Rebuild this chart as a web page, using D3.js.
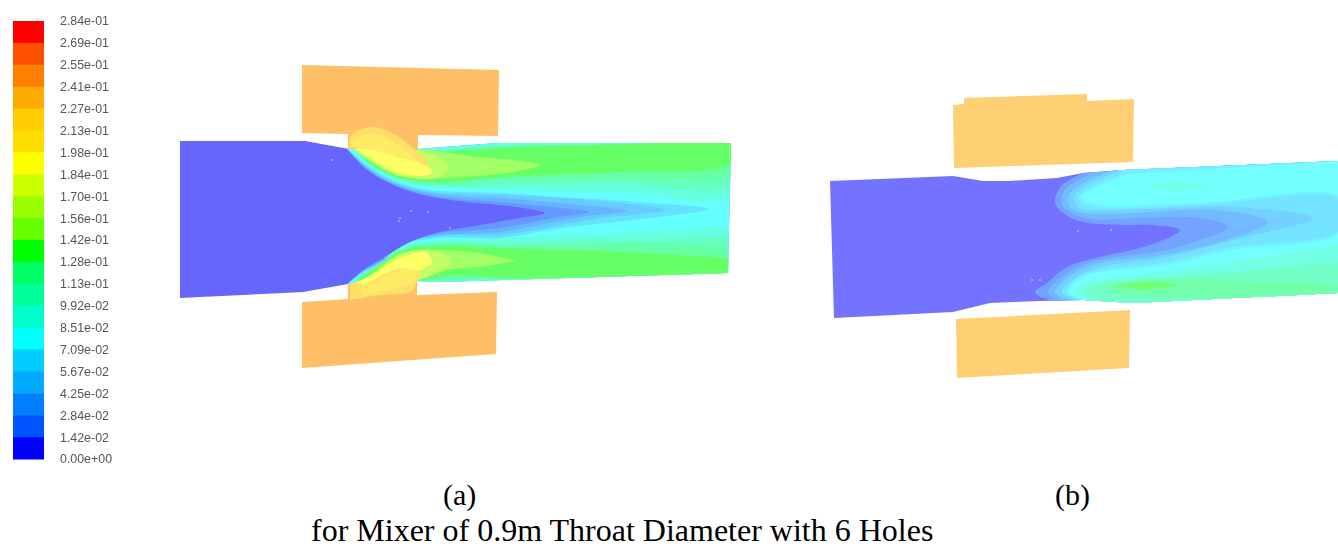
<!DOCTYPE html>
<html>
<head>
<meta charset="utf-8">
<script src="https://cdn.jsdelivr.net/npm/d3@7/dist/d3.min.js"></script>
<style>
  html, body { margin: 0; padding: 0; background: #fff; overflow: hidden; }
</style>
</head>
<body>
<div id="chart"></div>
<script>
// legend, top to bottom
const legendLabels = ["2.84e-01","2.69e-01","2.55e-01","2.41e-01","2.27e-01","2.13e-01","1.98e-01",
  "1.84e-01","1.70e-01","1.56e-01","1.42e-01","1.28e-01","1.13e-01","9.92e-02","8.51e-02","7.09e-02",
  "5.67e-02","4.25e-02","2.84e-02","1.42e-02","0.00e+00"];

// band colours, lowest band first (index = contour level)
const levelColors = ["#0000ff","#0055ff","#0080ff","#00aaff","#00ccff","#00ffff","#00ffcc","#00ff99",
  "#00ff66","#00ff00","#66ff00","#99ff00","#ccff00","#ffff00","#ffdd00","#ffcc00","#ffaa00","#ff8000",
  "#ff5000","#ff0000"];

const captionA = "(a)";
const captionB = "(b)";
const captionMain = "for Mixer of 0.9m Throat Diameter with 6 Holes";

const bodyA = [[180,141],[305,141],[349,149],[418,149],[430,148],[497,143],[731,143],[728,273],[600,277],
  [440,282],[417,281],[348,284],[303,292],[180,298]];
const blockTopA = [[302,65],[499,70],[498,136],[418,135],[418,150],[348,150],[348,134],[302,133]];
const blockBottomA = [[348,283],[348,299],[302,302],[302,368],[496,354],[497,292],[417,295],[417,281]];
const blocksLevelA = 16.5;

// [level, outline] painted in order, clipped to the body
const outletA = [
  [5, [[348,148],[731,143],[731,280],[348,288]]],
  // upper jet
  [6, [[352,146],[430,149],[500,143],[731,142],[731,195],[620,192],[500,190],[440,188],[400,181],[370,166],[355,150]]],
  [7, [[353,146],[436,150],[500,145],[600,143],[731,142],[731,185],[620,184],[500,185],[440,186],[400,180],[370,165],[354,149]]],
  [8, [[445,151],[500,147],[620,144],[731,142],[731,173],[620,178],[500,180],[440,184],[400,179],[370,164],[358,150]]],
  [9, [[450,152],[500,148],[640,144],[731,142],[731,163],[620,172],[500,177],[440,182],[400,178],[370,163],[360,150]]],
  [10, [[430,150],[480,157],[513,160],[540,165],[513,172],[447,178],[420,178],[400,175],[370,160],[352,148]]],
  [11, [[420,150],[440,158],[448,167],[440,177],[400,176],[370,161],[352,148]]],
  // lower jet
  [6, [[728,227],[620,233],[500,238],[440,240],[400,246],[370,266],[352,285],[417,282],[440,284],[520,281],[600,278],[729,274]]],
  [7, [[728,237],[620,240],[500,243],[440,242],[400,248],[370,268],[353,285],[417,281],[445,281],[520,280],[600,278],[729,274]]],
  [8, [[728,247],[620,245],[500,246],[440,244],[400,250],[370,270],[356,285],[417,281],[450,278],[520,279],[620,277],[729,274]]],
  [9, [[728,258],[620,252],[500,248],[440,246],[400,252],[370,272],[356,285],[417,281],[455,276],[520,278],[640,276],[729,274]]],
  [10, [[517,261],[480,253],[440,250],[400,256],[372,274],[356,285],[417,278],[447,270],[480,267]]],
  [11, [[452,258],[430,250],[400,254],[372,274],[358,285],[417,280],[430,276],[448,268]]]
];

// domes reach into the holes, so these are not clipped
const domesA = [
  [15, [[349,148],[351,135],[372,127],[390,132],[403,140],[418,153],[428,163],[428,170],[400,160],[370,150]]],
  [14, [[352,146],[356,138],[373,134],[395,143],[415,158],[428,170],[400,160],[370,150]]],
  [13, [[355,148],[372,150],[400,158],[420,163],[433,172],[420,176],[395,172],[370,158]]],
  [15, [[350,284],[367,278],[395,265],[410,262],[420,270],[416,283],[412,291],[373,296],[350,300]]],
  [14, [[360,290],[383,277],[407,266],[418,268],[412,282],[390,290],[365,296]]],
  [13, [[355,283],[370,276],[400,258],[425,252],[432,262],[420,270],[400,268],[383,275],[365,285]]]
];

// slow core, widest first
const coreA = [
  [4, [[346,148],[367,165],[393,180],[423,189],[467,192],[500,193],[560,197],[650,203],[708,209],[650,218],[560,228],[500,238],[440,238],[400,246],[383,262],[363,273],[346,285]]],
  [3, [[346,148],[367,167],[393,182],[423,191],[467,194],[500,195],[600,201],[665,210],[600,218],[500,235],[440,236],[400,245],[383,261],[363,272],[346,285]]],
  [2, [[346,148],[367,168],[393,183],[423,192],[467,197],[500,198],[580,205],[627,211],[580,217],[500,232],[440,235],[400,244],[383,260],[363,271],[346,285]]],
  [1, [[346,148],[367,169],[393,184],[423,194],[467,200],[500,202],[560,208],[589,212],[560,217],[500,228],[440,233],[400,243],[383,259],[363,271],[346,285]]],
  [0, [[346,148],[367,170],[393,185],[423,195],[467,202],[500,205],[530,209],[545,213],[520,218],[480,225],[440,232],[410,242],[383,258],[363,270],[346,285]]]
];

const bodyB = [[830,181],[953,176],[983,181],[1010,181],[1057,178],[1083,173],[1123,170],[1338,161],[1338,293],
  [1133,303],[1083,300],[1040,301],[990,303],[953,312],[834,318]];
const blockTopB = [[953,105],[964,104],[964,98],[1087,94],[1087,101],[1134,99],[1133,162],[954,168]];
const blockBottomB = [[956,319],[1130,310],[1129,368],[957,378]];
const blocksLevelB = 16;

// C shaped bands wrapping the core, widest first
const outletB = [
  [1, [[1085,172],[1062,185],[1057,193],[1055,203],[1063,213],[1083,222],[1123,225],[1150,225],[1180,230],[1150,245],[1100,257],[1067,267],[1047,283],[1035,292],[1053,301],[1133,305],[1338,295],[1340,161],[1123,168]]],
  [2, [[1095,172],[1070,185],[1062,195],[1062,205],[1072,213],[1090,219],[1140,218],[1200,218],[1228,227],[1200,240],[1167,250],[1117,257],[1083,265],[1058,280],[1048,292],[1065,301],[1133,305],[1338,295],[1340,161],[1123,168]]],
  [3, [[1105,173],[1078,186],[1068,197],[1070,207],[1085,213],[1133,213],[1217,210],[1268,222],[1217,243],[1150,257],[1100,263],[1068,277],[1055,292],[1075,301],[1133,305],[1338,295],[1340,161],[1123,168]]],
  [4, [[1112,174],[1085,186],[1074,197],[1080,208],[1117,210],[1233,207],[1313,218],[1233,240],[1167,257],[1100,267],[1075,278],[1062,292],[1085,302],[1133,305],[1338,295],[1340,161],[1123,168]]],
  [4.5, [[1120,175],[1090,188],[1078,198],[1090,206],[1200,205],[1340,200],[1340,230],[1233,247],[1167,262],[1083,275],[1066,292],[1090,302],[1133,305],[1338,295],[1340,161],[1123,168]]],
  [5, [[1130,174],[1095,188],[1081,197],[1095,204],[1200,203],[1340,197],[1340,232],[1233,250],[1167,265],[1083,277],[1069,292],[1095,302],[1133,305],[1338,295],[1340,161]]],
  [6, [[1140,187],[1175,183],[1213,187],[1175,191]]],
  [6, [[1340,245],[1233,262],[1150,273],[1090,282],[1073,291],[1090,302],[1133,305],[1338,295]]],
  [7, [[1340,262],[1233,272],[1150,280],[1095,284],[1084,291],[1100,301],[1200,302],[1338,295]]],
  [8, [[1105,287],[1130,281],[1177,278],[1260,282],[1340,287],[1338,295],[1200,298],[1120,295]]],
  [9, [[1113,286],[1145,282],[1177,285],[1145,290]]]
];

const specksA = [[332,160],[411,211],[400,218],[399,221],[428,212],[450,228]];
const specksB = [[1078,231],[1111,230],[1032,280],[1040,280]];

const width = 1338;
const height = 548;
const wash = d3.scaleLinear(d3.range(levelColors.length), levelColors);

// contour colours are the legend colours faded towards white
function faded(level, amount) {
  return d3.interpolateRgb(wash(level), "#fff")(amount);
}

const svg = d3.select("#chart").append("svg")
  .attr("width", width)
  .attr("height", height)
  .attr("viewBox", [0, 0, width, height])
  .style("display", "block")
  .style("font-family", "'Liberation Sans', Arial, sans-serif");

const defs = svg.append("defs");
defs.append("filter").attr("id", "soft")
  .append("feGaussianBlur").attr("stdDeviation", 0.6);
defs.append("filter").attr("id", "softText")
  .append("feGaussianBlur").attr("stdDeviation", 0.3);

const x = d3.scaleLinear([0, width], [0, width]);
const y = d3.scaleLinear([0, height], [0, height]);

const smooth = d3.line(d => x(d[0]), d => y(d[1])).curve(d3.curveCatmullRom.alpha(0.5));
const straight = d3.line(d => x(d[0]), d => y(d[1]));

function drawBands(g, bands, fade) {
  g.selectAll(null)
    .data(bands)
    .enter()
    .append("path")
    .attr("d", d => smooth(d[1]) + "Z")
    .attr("fill", d => faded(d[0], fade));
}

function drawShape(g, shape, level, fade) {
  g.append("path")
    .attr("d", straight(shape) + "Z")
    .attr("fill", faded(level, fade));
}

function drawSpecks(g, specks) {
  g.selectAll(null)
    .data(specks)
    .enter()
    .append("circle")
    .attr("cx", d => x(d[0]))
    .attr("cy", d => y(d[1]))
    .attr("r", 0.7)
    .attr("fill", "#fff");
}

// Legend
const legendY = d3.scalePoint(legendLabels, [21, 459]);
const legend = svg.append("g").attr("class", "legend");

legend.selectAll("rect")
  .data(levelColors.slice().reverse())
  .enter()
  .append("rect")
  .attr("x", 13)
  .attr("width", 31)
  .attr("y", (d, i) => legendY(legendLabels[i]))
  .attr("height", legendY.step() + 0.5)
  .attr("fill", d => d);

const legendAxis = legend.append("g")
  .attr("transform", "translate(60,0)")
  .attr("filter", "url(#softText)")
  .call(d3.axisRight(legendY).tickSize(0).tickPadding(0));
legendAxis.select(".domain").remove();
legendAxis.selectAll("text")
  .attr("font-size", 12.4)
  .attr("fill", "#555");

// Mixer (a)
const plotA = svg.append("g").attr("filter", "url(#soft)");
defs.append("clipPath").attr("id", "clipA")
  .append("path").attr("d", straight(bodyA) + "Z");

drawShape(plotA, blockTopA, blocksLevelA, 0.4);
drawShape(plotA, blockBottomA, blocksLevelA, 0.4);
drawShape(plotA, bodyA, 0, 0.4);
drawBands(plotA.append("g").attr("clip-path", "url(#clipA)"), outletA, 0.4);
drawBands(plotA, domesA, 0.4);
drawBands(plotA.append("g").attr("clip-path", "url(#clipA)"), coreA, 0.4);
drawSpecks(plotA, specksA);

// Mixer (b)
const plotB = svg.append("g").attr("filter", "url(#soft)");
defs.append("clipPath").attr("id", "clipB")
  .append("path").attr("d", straight(bodyB) + "Z");

drawShape(plotB, blockTopB, blocksLevelB, 0.45);
drawShape(plotB, blockBottomB, blocksLevelB, 0.45);
drawShape(plotB, bodyB, 0, 0.45);
drawBands(plotB.append("g").attr("clip-path", "url(#clipB)"), outletB, 0.45);
drawSpecks(plotB, specksB);

// Captions
const captions = svg.append("g")
  .attr("font-family", "'Liberation Serif', 'Times New Roman', serif")
  .attr("fill", "#000");

captions.append("text").attr("x", 443).attr("y", 505).attr("font-size", 30).text(captionA);
captions.append("text").attr("x", 1055).attr("y", 505).attr("font-size", 30).text(captionB);
captions.append("text").attr("x", 311).attr("y", 541).attr("font-size", 32).text(captionMain);
</script>
</body>
</html>
